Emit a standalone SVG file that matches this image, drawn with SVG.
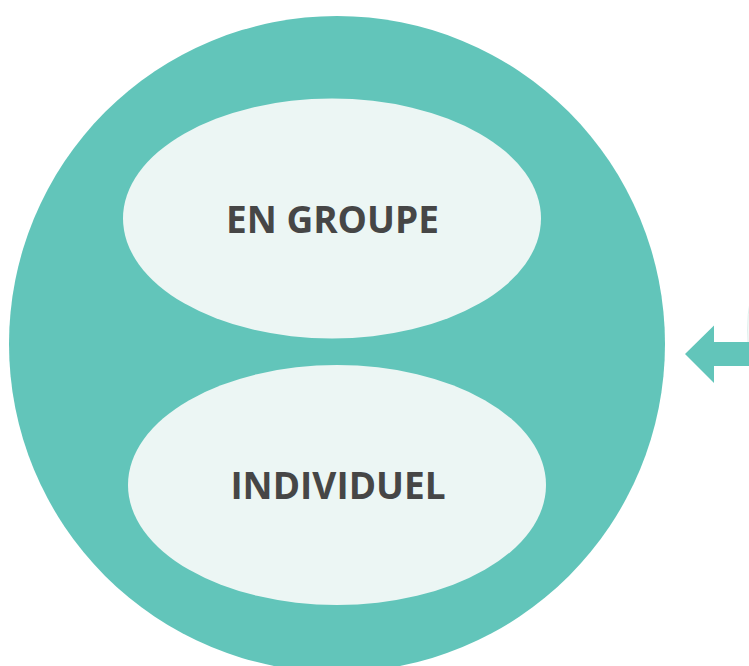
<svg xmlns="http://www.w3.org/2000/svg" width="749" height="666" viewBox="0 0 749 666">
<style>
.teal{fill:#62c5ba}
.light{fill:#ecf6f4}
.lbl{font-family:"Open Sans","Liberation Sans",sans-serif;font-weight:bold;font-size:37px;fill:#464646;text-anchor:middle}
</style>
<rect width="749" height="666" fill="#ffffff"/>
<g id="outer"><circle class="teal" cx="337" cy="344" r="328"/></g>
<g id="offscreen"><ellipse cx="900" cy="330" rx="152.5" ry="160" fill="#f4faf9" stroke="#e0f0ed" stroke-width="1"/></g>
<g id="en-groupe">
<ellipse class="light" cx="332" cy="218.5" rx="209" ry="120"/>
<text class="lbl" x="332.5" y="232.5">EN GROUPE</text>
</g>
<g id="individuel">
<ellipse class="light" cx="337" cy="485" rx="209" ry="120"/>
<text class="lbl" x="338" y="499">INDIVIDUEL</text>
</g>
<g id="connectors">
<polygon class="teal" points="685,354 714,325.5 714,342 749,342 749,366 714,366 714,383"/>
</g>
</svg>
